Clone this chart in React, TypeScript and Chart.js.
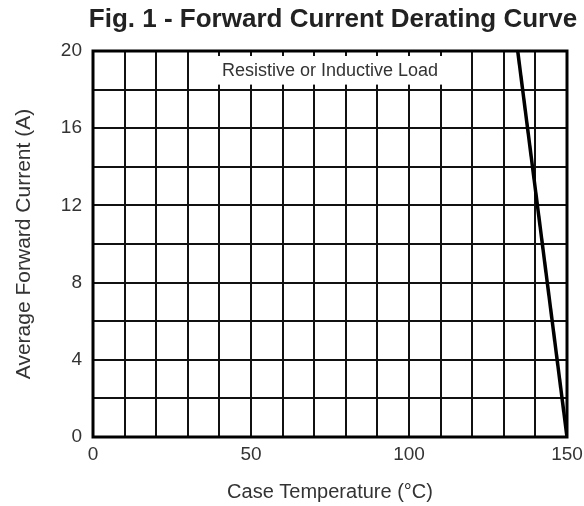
import React, { useEffect, useRef } from "react";
import { Chart, registerables } from "chart.js";

Chart.register(...registerables);

const titleText = "Fig. 1 - Forward Current Derating Curve";
const xTitle = "Case Temperature (°C)";
const yTitle = "Average Forward Current (A)";
const noteText = "Resistive or Inductive Load";

const xTickLabels = [0, 50, 100, 150];
const yTickLabels = [0, 4, 8, 12, 16, 20];

const curveTemps = [134.4, 150];
const curveCurrents = [20, 0];

const FONT = "'Liberation Sans', Arial, Helvetica, sans-serif";

const decorPlugin = {
  id: "decor",
  beforeDatasetsDraw(chart: any) {
    const { ctx, scales } = chart;
    const xs = scales.x;
    const ys = scales.y;
    ctx.save();
    const x0 = xs.getPixelForValue(30) + 1.5;
    const x1 = xs.getPixelForValue(120) - 1.5;
    const y0 = ys.getPixelForValue(20) + 5;
    const y1 = ys.getPixelForValue(18) - 5;
    ctx.fillStyle = "#ffffff";
    ctx.fillRect(x0, y0, x1 - x0, y1 - y0);
    ctx.fillStyle = "#333333";
    ctx.font = `18px ${FONT}`;
    ctx.textAlign = "center";
    ctx.textBaseline = "middle";
    ctx.fillText(noteText, xs.getPixelForValue(75), ys.getPixelForValue(19) + 1);
    ctx.restore();
  },
  afterDatasetsDraw(chart: any) {
    const { ctx, chartArea } = chart;
    ctx.save();
    ctx.strokeStyle = "#000000";
    ctx.lineWidth = 3;
    ctx.strokeRect(chartArea.left, chartArea.top, chartArea.right - chartArea.left, chartArea.bottom - chartArea.top);
    ctx.fillStyle = "#222222";
    ctx.font = `bold 26px ${FONT}`;
    ctx.textAlign = "center";
    ctx.textBaseline = "alphabetic";
    ctx.fillText(titleText, 333, 27);
    ctx.fillStyle = "#333333";
    ctx.font = `20px ${FONT}`;
    ctx.textBaseline = "middle";
    ctx.fillText(xTitle, (chartArea.left + chartArea.right) / 2, 492);
    ctx.font = `21px ${FONT}`;
    ctx.translate(24, (chartArea.top + chartArea.bottom) / 2);
    ctx.rotate(-Math.PI / 2);
    ctx.fillText(yTitle, 0, 0);
    ctx.restore();
  },
};

export default function App() {
  const ref = useRef<HTMLCanvasElement | null>(null);
  useEffect(() => {
    if (!ref.current) return;
    const chart = new Chart(ref.current, {
      type: "scatter",
      data: {
        datasets: [
          {
            data: curveTemps.map((t, i) => ({ x: t, y: curveCurrents[i] })),
            showLine: true,
            borderColor: "#000000",
            borderWidth: 3.5,
            pointRadius: 0,
            fill: false,
          },
        ],
      },
      options: {
        animation: false,
        responsive: false,
        devicePixelRatio: 1,
        layout: { padding: { top: 51, right: 17, left: 0, bottom: 0 } },
        plugins: { legend: { display: false }, tooltip: { enabled: false }, title: { display: false } },
        scales: {
          x: {
            type: "linear",
            min: 0,
            max: 150,
            afterFit(scale: any) {
              scale.height = 69;
              scale.paddingLeft = 0;
              scale.paddingRight = 0;
            },
            grid: { color: "#111111", lineWidth: 2, drawTicks: false },
            border: { display: false },
            ticks: {
              stepSize: 10,
              padding: 6,
              maxRotation: 0,
              minRotation: 0,
              autoSkip: false,
              color: "#333333",
              font: { size: 19, family: FONT },
              callback: (v: any) => (xTickLabels.includes(Number(v)) ? String(v) : ""),
            },
          },
          y: {
            type: "linear",
            min: 0,
            max: 20,
            afterFit(scale: any) {
              scale.width = 93;
              scale.paddingTop = 0;
              scale.paddingBottom = 0;
            },
            grid: { color: "#111111", lineWidth: 2, drawTicks: false },
            border: { display: false },
            ticks: {
              stepSize: 2,
              padding: 11,
              autoSkip: false,
              color: "#333333",
              font: { size: 19, family: FONT },
              callback: (v: any) => (yTickLabels.includes(Number(v)) ? String(v) : ""),
            },
          },
        },
      },
      plugins: [decorPlugin],
    });
    return () => chart.destroy();
  }, []);
  return (
    <div style={{ position: "fixed", left: 0, top: 0, width: 584, height: 506, background: "#fff" }}>
      <canvas ref={ref} width={584} height={506} style={{ width: 584, height: 506 }} />
    </div>
  );
}
